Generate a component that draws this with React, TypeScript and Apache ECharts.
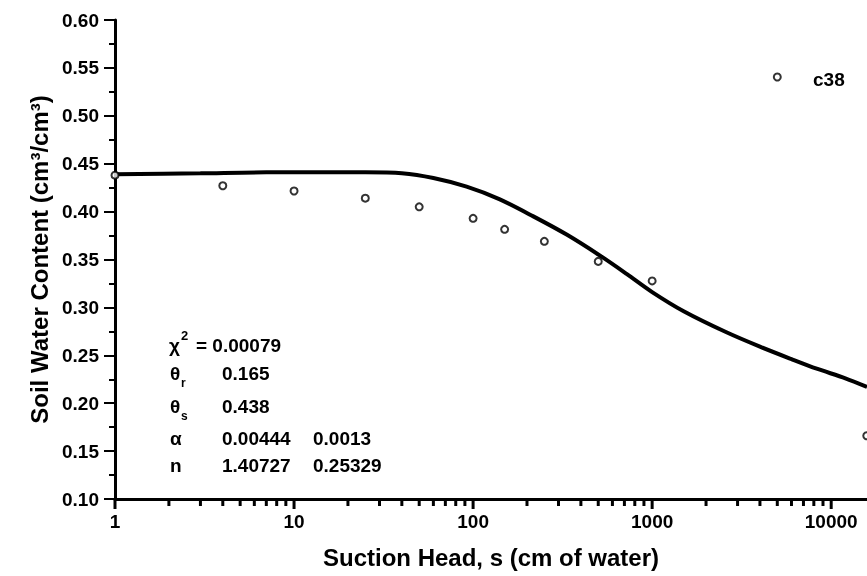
import React, { useEffect, useRef } from 'react';
import * as echarts from 'echarts';

// Measured data points (suction head in cm of water, water content cm3/cm3)
const suctionPoints = [1, 4, 10, 25, 50, 100, 150, 250, 500, 1000, 5000, 15800];
const waterPoints = [0.438, 0.427, 0.4215, 0.414, 0.405, 0.393, 0.3815, 0.369, 0.348, 0.3276, 0.5405, 0.166];

// Fitted curve
const curveSuction = [1, 3, 7, 15, 25, 40, 60, 92, 140, 217, 333, 512, 720, 1000, 1500, 2600, 4000, 6000, 8300, 12000, 15849];
const curveWater = [0.439, 0.440, 0.441, 0.441, 0.441, 0.440, 0.435, 0.426, 0.413, 0.395, 0.376, 0.354, 0.335, 0.316, 0.296, 0.274, 0.259, 0.246, 0.236, 0.226, 0.217];

// Axis ticks
const xMajorTicks = [1, 10, 100, 1000, 10000];
const xMinorTicks = [
  2, 3, 4, 5, 6, 7, 8, 9,
  20, 30, 40, 50, 60, 70, 80, 90,
  200, 300, 400, 500, 600, 700, 800, 900,
  2000, 3000, 4000, 5000, 6000, 7000, 8000, 9000,
];
const yAxisMin = 0.1;
const yAxisMax = 0.6;

// Fit annotation text
const chiValue = '= 0.00079';
const thetaRValue = '0.165';
const thetaSValue = '0.438';
const alphaValues = ['0.00444', '0.0013'];
const nValues = ['1.40727', '0.25329'];
const sampleName = 'c38';

const FONT = '"Liberation Sans", Arial, sans-serif';

export default function App() {
  const ref = useRef<HTMLDivElement>(null);

  useEffect(() => {
    if (!ref.current) return;
    const chart = echarts.init(ref.current, undefined, { renderer: 'svg' });

    // annotation text placed as title components (x = left edge, y = vertical centre)
    const label = (text: string, x: number, y: number, size: number) => ({
      text,
      left: x,
      top: y - size / 2,
      padding: 0,
      itemGap: 0,
      textStyle: {
        fontFamily: FONT,
        fontWeight: 'bold',
        fontSize: size,
        lineHeight: size,
        color: '#000',
      },
    });

    const tickSeries = (values: number[], w: number, h: number) => ({
      type: 'custom',
      clip: false,
      z: 5,
      data: values.map((v) => [v, 0.3]),
      encode: { x: 0, y: 1 },
      renderItem: (params: any, api: any) => {
        const p = api.coord([api.value(0), yAxisMin]);
        return {
          type: 'rect',
          shape: { x: p[0] - w / 2, y: p[1], width: w, height: h },
          style: { fill: '#000' },
        };
      },
    });

    chart.setOption({
      animation: false,
      title: [
        label('\u03C7', 169, 345, 19),
        label('2', 181, 335, 13),
        label(chiValue, 196, 345, 19),
        label('\u03B8', 170, 373, 19),
        label('r', 181, 383, 12),
        label(thetaRValue, 222, 373, 19),
        label('\u03B8', 170, 406, 19),
        label('s', 181, 416, 12),
        label(thetaSValue, 222, 406, 19),
        label('\u03B1', 170, 438, 19),
        label(alphaValues[0], 222, 438, 19),
        label(alphaValues[1], 313, 438, 19),
        label('n', 170, 465, 19),
        label(nValues[0], 222, 465, 19),
        label(nValues[1], 313, 465, 19),
        label(sampleName, 813, 79, 19),
      ],
      grid: { left: 115, right: 0, top: 20, bottom: 77 },
      xAxis: {
        type: 'log',
        min: 1,
        max: 15849,
        name: 'Suction Head, s (cm of water)',
        nameLocation: 'middle',
        nameGap: 46,
        nameTextStyle: { fontFamily: FONT, fontWeight: 'bold', fontSize: 24, color: '#000' },
        axisLine: { show: true, lineStyle: { color: '#000', width: 3 } },
        axisTick: { show: false },
        axisLabel: {
          margin: 13,
          showMaxLabel: false,
          fontFamily: FONT,
          fontWeight: 'bold',
          fontSize: 19,
          color: '#000',
          formatter: (v: number) => String(Math.round(v)),
        },
        splitLine: { show: false },
      },
      yAxis: {
        type: 'value',
        min: yAxisMin,
        max: yAxisMax,
        interval: 0.05,
        name: 'Soil Water Content (cm\u00B3/cm\u00B3)',
        nameLocation: 'middle',
        nameGap: 64,
        nameTextStyle: { fontFamily: FONT, fontWeight: 'bold', fontSize: 24, color: '#000' },
        axisLine: { show: true, lineStyle: { color: '#000', width: 3 } },
        axisTick: { show: true, length: 11, lineStyle: { color: '#000', width: 2 } },
        minorTick: { show: true, splitNumber: 2, length: 6, lineStyle: { color: '#000', width: 2 } },
        axisLabel: {
          margin: 16,
          fontFamily: FONT,
          fontWeight: 'bold',
          fontSize: 19,
          color: '#000',
          formatter: (v: number) => v.toFixed(2),
        },
        splitLine: { show: false },
      },
      series: [
        tickSeries(xMajorTicks, 3, 10),
        tickSeries(xMinorTicks, 3, 7),
        {
          type: 'line',
          z: 2,
          data: curveSuction.map((s, i) => [s, curveWater[i]]),
          smooth: 0.3,
          symbol: 'none',
          lineStyle: { color: '#000', width: 4 },
        },
        {
          type: 'scatter',
          z: 3,
          data: suctionPoints.map((s, i) => [s, waterPoints[i]]),
          symbol: 'circle',
          symbolSize: 7,
          itemStyle: { color: '#fff', borderColor: '#000', borderWidth: 2 },
        },
      ],
    });

    return () => chart.dispose();
  }, []);

  return <div ref={ref} style={{ position: 'fixed', left: 0, top: 0, width: 867, height: 576 }} />;
}
